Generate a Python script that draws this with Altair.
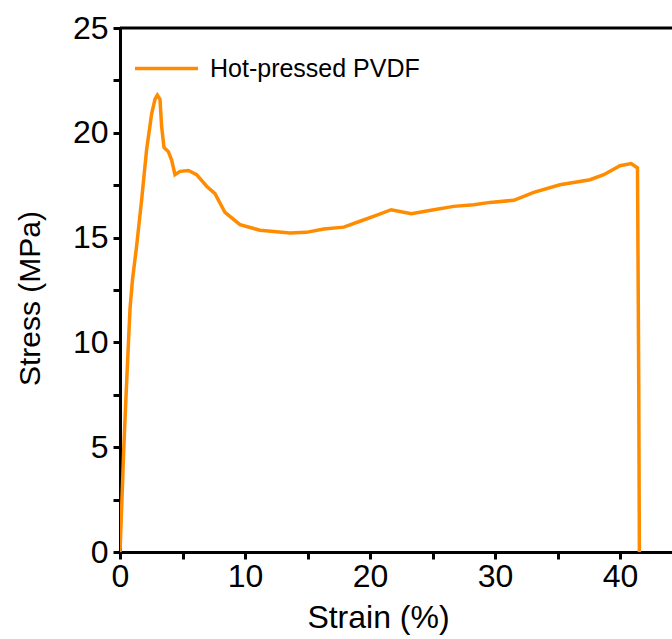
import altair as alt
import pandas as pd

strain = [0, 0.1, 0.2, 0.3, 0.45, 0.6, 0.8, 1.0, 1.33, 1.73, 2.13, 2.53, 2.8, 2.99, 3.2, 3.33, 3.52,
          3.87, 4.13, 4.4, 4.8, 5.47, 6.13, 6.93, 7.6, 8.4, 9.6, 11.2, 13.6, 14.9, 16.3, 17.9, 19.2,
          20.5, 21.7, 23.3, 25.1, 26.7, 28.3, 29.6, 31.5, 33.1, 35.2, 37.6, 38.7, 40.0, 40.9, 41.4,
          41.5, 41.55]
stress = [0, 1.6, 3.2, 4.9, 7.0, 9.0, 11.6, 13.0, 14.6, 16.8, 19.2, 20.9, 21.6, 21.8, 21.6, 20.3, 19.3,
          19.1, 18.7, 18.0, 18.16, 18.2, 18.0, 17.45, 17.1, 16.2, 15.62, 15.35, 15.22, 15.25, 15.41, 15.5, 15.78,
          16.06, 16.33, 16.14, 16.33, 16.49, 16.57, 16.68, 16.78, 17.16, 17.52, 17.76, 18.0, 18.43, 18.53, 18.32,
          8.0, 0]
series = "Hot-pressed PVDF"

df = pd.DataFrame({"strain": strain, "stress": stress, "order": list(range(len(strain))), "series": series})

W, H = 552, 524
FONT = "Liberation Sans"
LAB = 32

line = alt.Chart(df).mark_line(strokeWidth=3.5, clip=True).encode(
    x=alt.X("strain:Q", scale=alt.Scale(domain=[0, 44.16], nice=False, zero=False),
            axis=alt.Axis(title="Strain (%)", values=[0, 5, 10, 15, 20, 25, 30, 35, 40],
                          labelExpr="datum.value % 10 == 0 ? datum.label : ''",
                          labelFlush=False,
                          ticks=True, tickSize=7, grid=False, domain=True,
                          domainColor="black", domainWidth=3,
                          tickColor="black", tickWidth=3,
                          labelFont=FONT, labelFontSize=LAB, labelColor="black", labelPadding=2,
                          titleFont=FONT, titleFontSize=32, titleColor="black", titleFontWeight="normal",
                          titlePadding=10, titleX=258)),
    y=alt.Y("stress:Q", scale=alt.Scale(domain=[0, 25], nice=False),
            axis=alt.Axis(title="Stress (MPa)", values=[0, 2.5, 5, 7.5, 10, 12.5, 15, 17.5, 20, 22.5, 25],
                          labelExpr="datum.value % 5 == 0 ? datum.label : ''",
                          labelFlush=False,
                          ticks=True, tickSize=7, grid=False, domain=True,
                          domainColor="black", domainWidth=3,
                          tickColor="black", tickWidth=3,
                          labelFont=FONT, labelFontSize=LAB, labelColor="black", labelPadding=5,
                          titleFont=FONT, titleFontSize=30, titleColor="black", titleFontWeight="normal",
                          titlePadding=27, titleY=270)),
    order="order:Q",
    color=alt.Color("series:N", scale=alt.Scale(range=["#FF8C00"]),
                    legend=alt.Legend(title=None, orient="none", legendX=13, legendY=7,
                                      symbolType="stroke", symbolSize=3969, symbolStrokeWidth=3.5,
                                      labelFont=FONT, labelFontSize=25, labelColor="black",
                                      labelOffset=10, labelLimit=0, padding=0)),
)

top = alt.Chart(pd.DataFrame({"a": [0]})).mark_rule(color="black", strokeWidth=3).encode(
    x=alt.value(0), x2=alt.value(W), y=alt.value(0)
)

chart = alt.layer(line, top).properties(
    width=W, height=H,
    autosize=alt.AutoSizeParams(type="none"),
    padding={"left": 120, "top": 28, "right": 0, "bottom": 85},
    background="white",
).configure_view(stroke=None).configure_axis(ticks=True, tickColor="black", tickWidth=3, tickSize=7)

chart.save("out.html", embed_options={"renderer": "svg", "actions": False})
